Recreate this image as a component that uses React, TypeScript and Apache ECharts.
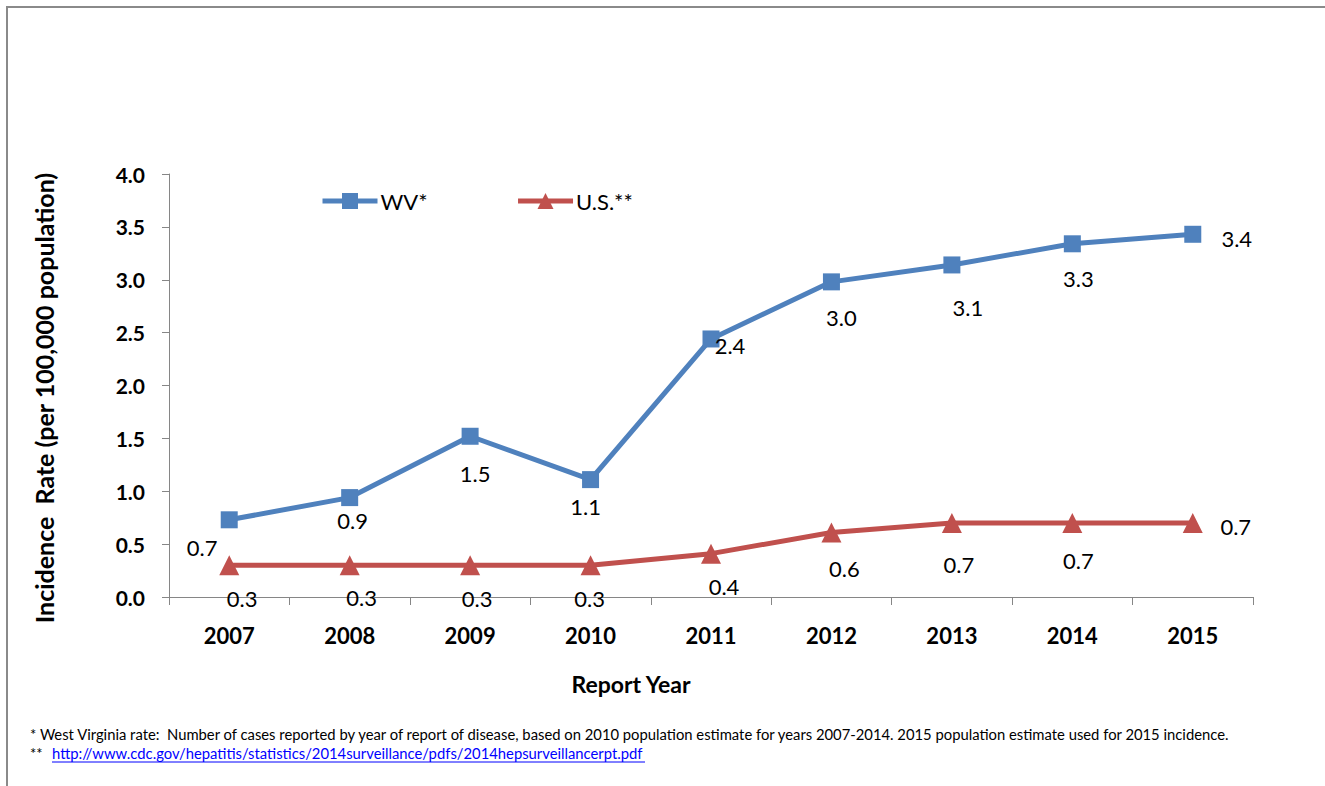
import React, { useEffect, useRef } from "react";
import * as echarts from "echarts";

const years = ["2007", "2008", "2009", "2010", "2011", "2012", "2013", "2014", "2015"];
const wvRates = [0.73, 0.94, 1.52, 1.11, 2.44, 2.98, 3.14, 3.34, 3.43];
const usRates = [0.3, 0.3, 0.3, 0.3, 0.41, 0.61, 0.7, 0.7, 0.7];
const yTicks = { min: 0, max: 4, interval: 0.5 };

const seriesNames = ["WV*", "U.S.**"];
const yAxisTitle = "Incidence  Rate (per 100,000 population)";
const xAxisTitle = "Report Year";
const footnote1 =
  "* West Virginia rate:  Number of cases reported by year of report of disease, based on 2010 population estimate for years 2007-2014. 2015 population estimate used for 2015 incidence.";
const footnote2Prefix = "** ";
const footnote2Link = "http://www.cdc.gov/hepatitis/statistics/2014surveillance/pdfs/2014hepsurveillancerpt.pdf";

// label offsets (styling only): label centre relative to point
const wvLabelOffsets = [[-27, 28], [3, 23], [5, 37], [-5, 27], [19, 7], [10, 36], [16, 43], [6, 35], [44, 4]];
const usLabelOffsets = [[13, 33], [12, 32], [7, 33], [-1, 33], [13, 33], [13, 36], [7, 42], [6, 38], [43, 4]];

const FONT = "Lato";
const BLUE = "#4F81BD";
const RED = "#C0504D";
const AXIS = "#868686";

export default function App() {
  const ref = useRef<HTMLDivElement>(null);
  useEffect(() => {
    if (!ref.current) return;
    const chart = echarts.init(ref.current, undefined, { renderer: "svg" });
    const mkData = (vals: number[], offs: number[][]) =>
      vals.map((v, i) => ({
        value: v,
        label: { offset: offs[i] },
      }));
    const labelBase = {
      show: true,
      position: "inside",
      align: "center",
      verticalAlign: "middle",
      fontFamily: FONT,
      fontSize: 22,
      color: "#000",
      formatter: (p: any) => Number(p.value).toFixed(1),
    };
    chart.setOption({
      animation: false,
      backgroundColor: "#fff",
      textStyle: { fontFamily: FONT },
      grid: { left: 169, right: 72, top: 174, bottom: 189, containLabel: false },
      legend: {
        left: 315,
        top: 185,
        itemWidth: 55,
        itemHeight: 20,
        itemGap: 88,
        lineStyle: { width: 5 },
        textStyle: { fontFamily: FONT, fontSize: 22, color: "#000", padding: [0, 0, 0, -2] },
        data: seriesNames,
      },
      xAxis: {
        type: "category",
        data: years,
        boundaryGap: true,
        axisLine: { lineStyle: { color: AXIS, width: 1 } },
        axisTick: { show: true, length: 8, lineStyle: { color: AXIS } },
        axisLabel: { fontFamily: FONT, fontSize: 22, fontWeight: "bold", color: "#000", margin: 27 },
        splitLine: { show: false },
      },
      yAxis: {
        type: "value",
        min: yTicks.min,
        max: yTicks.max,
        interval: yTicks.interval,
        axisLine: { show: true, lineStyle: { color: AXIS, width: 1 } },
        axisTick: { show: true, length: 7, lineStyle: { color: AXIS } },
        axisLabel: {
          fontFamily: FONT,
          fontSize: 21,
          fontWeight: "bold",
          color: "#000",
          margin: 24,
          formatter: (v: number) => v.toFixed(1),
        },
        splitLine: { show: false },
      },
      series: [
        {
          name: seriesNames[0],
          type: "line",
          data: mkData(wvRates, wvLabelOffsets),
          symbol: "rect",
          symbolSize: 17,
          lineStyle: { color: BLUE, width: 5 },
          itemStyle: { color: BLUE },
          label: labelBase,
          z: 3,
        },
        {
          name: seriesNames[1],
          type: "line",
          data: mkData(usRates, usLabelOffsets),
          symbol: "triangle",
          symbolSize: 20,
          lineStyle: { color: RED, width: 5 },
          itemStyle: { color: RED },
          label: labelBase,
          z: 2,
        },
      ],
      graphic: [
        {
          type: "rect",
          shape: { x: 7, y: 7, width: 1500, height: 1000 },
          style: { fill: "none", stroke: "#8a8a8a", lineWidth: 2 },
          silent: true,
        },
        {
          type: "text",
          x: 44,
          y: 398,
          rotation: Math.PI / 2,
          style: {
            text: yAxisTitle,
            fontFamily: FONT,
            fontSize: 25,
            fontWeight: "bold",
            fill: "#000",
            align: "center",
            verticalAlign: "middle",
          },
        },
        {
          type: "text",
          x: 631,
          y: 684,
          style: {
            text: xAxisTitle,
            fontFamily: FONT,
            fontSize: 23,
            fontWeight: "bold",
            fill: "#000",
            align: "center",
            verticalAlign: "middle",
          },
        },
        {
          type: "text",
          x: 30,
          y: 734,
          style: {
            text: footnote1,
            fontFamily: FONT,
            fontSize: 14.8,
            fill: "#000",
            align: "left",
            verticalAlign: "middle",
          },
        },
        {
          type: "text",
          x: 30,
          y: 753,
          style: {
            text: footnote2Prefix,
            fontFamily: FONT,
            fontSize: 14.8,
            fill: "#000",
            align: "left",
            verticalAlign: "middle",
          },
        },
        {
          type: "text",
          x: 52,
          y: 753,
          style: {
            text: footnote2Link,
            fontFamily: FONT,
            fontSize: 14.8,
            fill: "#0000FF",
            align: "left",
            verticalAlign: "middle",
          },
        },
        {
          type: "line",
          shape: { x1: 52, y1: 762, x2: 645, y2: 762 },
          style: { stroke: "#0000FF", lineWidth: 1 },
        },
      ],
    });
    return () => chart.dispose();
  }, []);
  return (
    <div
      ref={ref}
      style={{ position: "absolute", left: 0, top: 0, width: 1325, height: 786 }}
    />
  );
}
